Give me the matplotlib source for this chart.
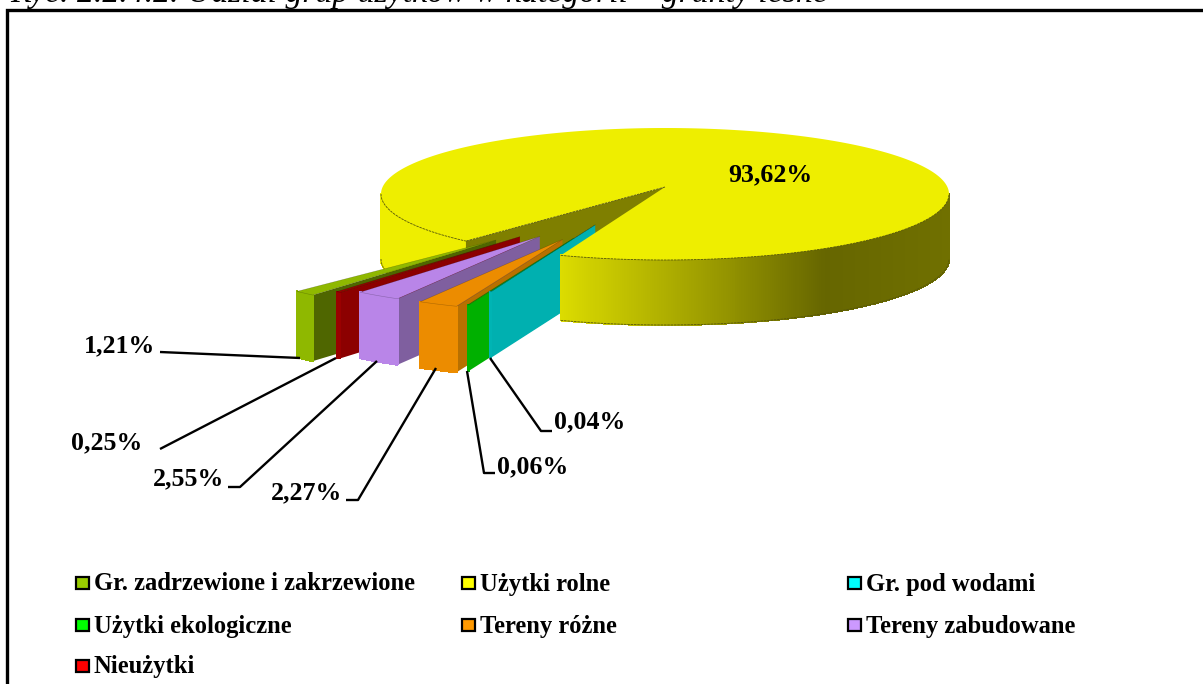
import numpy as np
import matplotlib
matplotlib.use("Agg")
import matplotlib.pyplot as plt
from matplotlib.patches import Polygon, Rectangle

# ---- data
categories = ["Gr. zadrzewione i zakrzewione", "Nieużytki", "Tereny zabudowane",
              "Tereny różne", "Użytki ekologiczne", "Gr. pod wodami", "Użytki rolne"]
values = [1.21, 0.25, 2.55, 2.27, 0.06, 0.04, 93.62]
value_labels = ["1,21%", "0,25%", "2,55%", "2,27%", "0,06%", "0,04%", "93,62%"]
legend_order = ["Gr. zadrzewione i zakrzewione", "Użytki rolne", "Gr. pod wodami",
                "Użytki ekologiczne", "Tereny różne", "Tereny zabudowane", "Nieużytki"]
title = "Ryc. 2.2.4.2. Udział grup użytków w kategorii – grunty leśne"

# ---- styles
explode = [0.80, 0.80, 0.80, 0.80, 0.80, 0.60]
nudge = [(-16, 7), (0, 2), (4, -1), (-3, -2), (-7, -5), (-7, -6)]
top_col = ["#8fb800", "#9a0000", "#b985e8", "#ec8c00", "#00b400", "#00b4b4"]
side_col = ["#4f6600", "#8c0000", "#7f5f9f", "#b87000", "#00b000", "#00b0b0"]
legend_col = {"Gr. zadrzewione i zakrzewione": "#99cc00", "Użytki rolne": "#ffff00",
              "Gr. pod wodami": "#00ffff", "Użytki ekologiczne": "#00ff00",
              "Tereny różne": "#ff9900", "Tereny zabudowane": "#cc99ff", "Nieużytki": "#ff0000"}
YEL = "#eeee00"
CX, CY, A, B, B_SLICE = 665.0, 194.0, 284.0, 66.0, 72.0
DEPTH_MAIN, DEPTH_SL = 65.0, 66.0
START = 225.5  # angle where the small slices begin

plt.rcParams["font.family"] = ["Liberation Serif", "DejaVu Serif"]
fig = plt.figure(figsize=(12.03, 6.84), dpi=100)
ax = fig.add_axes([0, 0, 1, 1])
ax.set_xlim(0, 1203)
ax.set_ylim(684, 0)
ax.axis("off")


def pt(theta, cx=CX, cy=CY, b=B):
    t = np.radians(theta)
    return np.column_stack([cx + A * np.cos(t), cy - b * np.sin(t)])


def poly(p, fc, z, ec="none", lw=0.0):
    ax.add_patch(Polygon(p, closed=True, fc=fc, ec=ec, lw=lw, zorder=z, joinstyle="round"))


def wall(top, depth, colors, z):
    for i in range(len(top) - 1):
        q = np.array([top[i], top[i + 1], top[i + 1] + [0, depth], top[i] + [0, depth]])
        ax.add_patch(Polygon(q, closed=True, fc=colors[i], ec=colors[i], lw=0.8, zorder=z,
                             antialiased=False))


def shade(x):
    """Lighting of the main slice's front wall, left to right."""
    xp = [381, 555, 700, 825, 949]
    r = np.interp(x, xp, [238, 222, 160, 102, 112])
    return [(v / 255, v / 255, 0) for v in r]


# ---- angles from the values
sweep = [v / sum(values) * 360 for v in values]
edges = START + np.concatenate([[0], np.cumsum(sweep[:6])])
main_a0, main_a1 = edges[-1], START + 360
apex_main = np.array([665.0, 187.0])
EDGE = dict(color="#55550a", lw=0.6, ls=(0, (3, 1)))

# rear part of the large slice: left wall and inner wall
th_l = np.linspace(180, START, 50)
arc_l = pt(th_l)
wall(arc_l, DEPTH_MAIN, [YEL] * 49, 1)
ax.plot(*(arc_l + [0, DEPTH_MAIN]).T, zorder=1.5, **EDGE)
pl = pt(np.array([START]))[0]
poly([apex_main, pl, pl + [0, DEPTH_MAIN], apex_main + [0, DEPTH_MAIN]], "#7f7f00", 2)

# ---- exploded slices
for i in range(6):
    th = np.linspace(edges[i], edges[i + 1], 12)
    mid = np.radians((edges[i] + edges[i + 1]) / 2)
    c = np.array([CX + explode[i] * A * np.cos(mid) + nudge[i][0],
                  CY - explode[i] * B * np.sin(mid) + nudge[i][1]])
    arc = pt(th, c[0], c[1], B_SLICE)
    z = 3 + i
    far = arc[-1]
    poly([c, far, far + [0, DEPTH_SL], c + [0, DEPTH_SL]], side_col[i], z)
    wall(arc, DEPTH_SL, [top_col[i]] * 11, z)
    poly(np.vstack([c, arc]), top_col[i], z + 0.5, ec="#00000040", lw=0.4)

# ---- front part and top of the large slice
th_r = np.linspace(main_a0, 360, 240)
arc_r = pt(th_r)
wall(arc_r, DEPTH_MAIN, shade(arc_r[:-1, 0]), 10)
ax.plot(*(arc_r + [0, DEPTH_MAIN]).T, zorder=10.5, **EDGE)
th_t = np.linspace(main_a0, main_a1, 400)
poly(np.vstack([apex_main, pt(th_t)]), YEL, 11)
ax.plot(*pt(np.linspace(main_a0, 360, 150)).T, zorder=11.5, **EDGE)
ax.plot(*pt(np.linspace(180, START, 50)).T, zorder=11.5, **EDGE)
ax.plot(*np.array([apex_main, pl]).T, zorder=11.5, **EDGE)

# ---- value labels and leaders
label_pos = [(120, 346), (107, 443), (188, 479), (306, 493), (533, 467), (590, 422), (770, 175)]
leaders = [
    [(160, 352), (300, 358)],
    [(160, 449), (336, 358)],
    [(228, 487), (240, 487), (377, 361)],
    [(346, 500), (358, 500), (436, 368)],
    [(495, 473), (484, 473), (467, 371)],
    [(552, 431), (541, 431), (490, 358)],
]
for pts in leaders:
    ax.plot(*np.array(pts).T, color="black", lw=1.7, zorder=12, solid_capstyle="butt")
for lab, (x, y) in zip(value_labels, label_pos):
    ax.text(x, y, lab, ha="center", va="center", fontsize=18.6, fontweight="bold", zorder=13)

# ---- legend
lx = [75, 461, 847]
ly = [583, 625, 666]
for k, name in enumerate(legend_order):
    x, y = lx[k % 3], ly[k // 3]
    ax.add_patch(Rectangle((x + 1, y - 6), 13, 12, fc=legend_col[name], ec="black", lw=1.6, zorder=13))
    ax.text(x + 19, y + 1, name, ha="left", va="center", fontsize=17.75, fontweight="bold", zorder=13)

# ---- frame and title
ax.plot([7, 7, 1203], [684, 9.5, 9.5], color="black", lw=2.4, zorder=14, solid_joinstyle="miter")
ax.text(10, 2, title, ha="left", va="baseline", fontsize=24.3, style="italic", zorder=14, clip_on=True)

fig.savefig("out.png", dpi=100)
